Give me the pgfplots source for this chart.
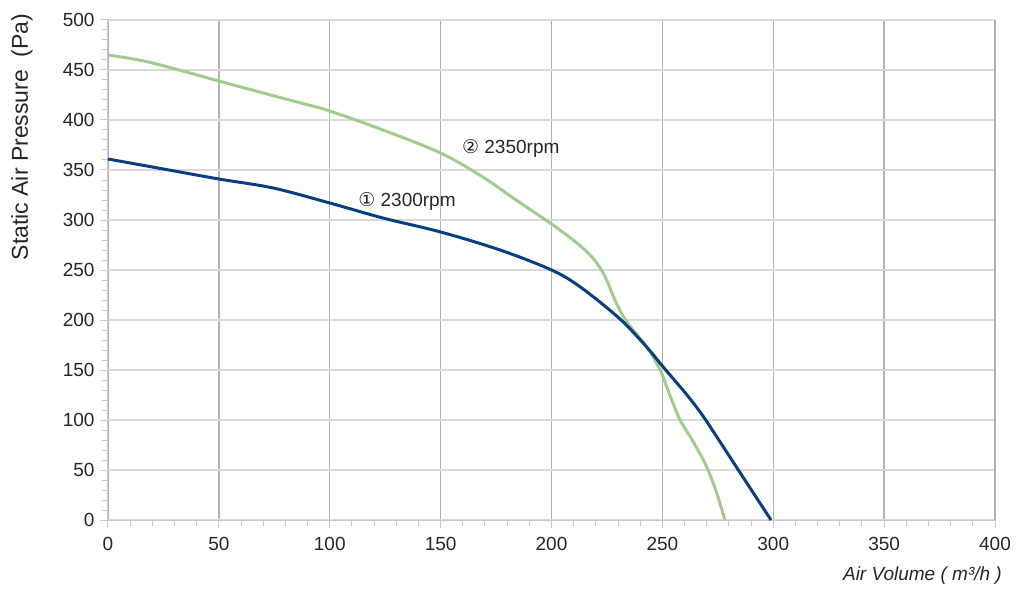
\documentclass[border=0pt]{standalone}
\usepackage{pgfplots}
\pgfplotsset{compat=1.18}
\usepackage{fontspec}
\setmainfont{Liberation Sans}
\newfontfamily\dejavu{DejaVu Sans}
\definecolor{bluec}{RGB}{10,62,128}
\definecolor{greenc}{RGB}{160,204,140}
\definecolor{vgrid}{RGB}{178,178,178}
\definecolor{hgrid}{RGB}{218,218,218}
\definecolor{axc}{RGB}{200,200,200}
\begin{document}
\begin{tikzpicture}
\path[use as bounding box] (-108pt,-78pt) rectangle (916pt,520pt);
\begin{axis}[
  scale only axis,
  width=887pt, height=500pt,
  at={(0,0)}, anchor=origin,
  xmin=0, xmax=400, ymin=0, ymax=500,
  xtick={0,50,...,400}, ytick={0,50,...,500},
  minor xtick={0,10,...,400}, minor ytick={0,10,...,500},
  axis x line*=bottom, axis y line*=left,
  axis line style={draw=axc, line width=1pt, -},
  tick style={draw=axc, line width=1pt},
  major tick length=8pt, minor tick length=6pt,
  tick align=outside,
  xmajorgrids, ymajorgrids,
  x grid style={draw=vgrid, line width=1.3pt},
  y grid style={draw=hgrid, line width=1.2pt},
  /pgf/number format/assume math mode=true,
  tick label style={font=\fontsize{19}{22}\selectfont, text=black!85},
  xticklabel style={yshift=-6pt},
  yticklabel style={xshift=-2pt},
  clip=false,
]
\addplot[draw=hgrid, line width=1.2pt] coordinates {(0,500) (400,500)};
\addplot[draw=vgrid, line width=1.3pt] coordinates {(400,0) (400,500)};
\addplot[greenc, line width=3pt, smooth, tension=0.55] coordinates {
(0,465) (14,460) (27,453) (50,439) (75,424) (87,417) (100,409) (124,390) (150,367) (169,343) (184,320) (200,296) (212,276) (219,261) (224,244) (229,218) (234,198) (243,173) (249,150) (253,127) (258,100) (264,78) (270,53) (274.5,27) (278.2,0)};
\addplot[bluec, line width=3pt, smooth, tension=0.55] coordinates {
(0,361) (25,351) (50,341) (74.5,332) (100,317) (124,302) (150,288) (176.8,270) (200,250) (213,233) (230.9,201) (242.9,173) (250,154) (255,141) (260,128) (265,114) (270,98.5) (280,64.5) (290,30.5) (299,0)};
\node[anchor=west, inner sep=0pt, font=\fontsize{19}{22}\selectfont, text=black!85] at (axis cs:159.6,372) {{\dejavu ②} 2350rpm};
\node[anchor=west, inner sep=0pt, font=\fontsize{19}{22}\selectfont, text=black!85] at (axis cs:112.8,319) {{\dejavu ①} 2300rpm};
\end{axis}
\node[rotate=90, font=\fontsize{23}{26}\selectfont, text=black!85] at (-86pt,383pt) {Static Air Pressure~~(Pa)};
\node[anchor=east, inner sep=0pt, font=\itshape\fontsize{19}{22}\selectfont, text=black!85] at (894pt,-56pt) {Air Volume ( m³/h )};
\end{tikzpicture}
\end{document}
